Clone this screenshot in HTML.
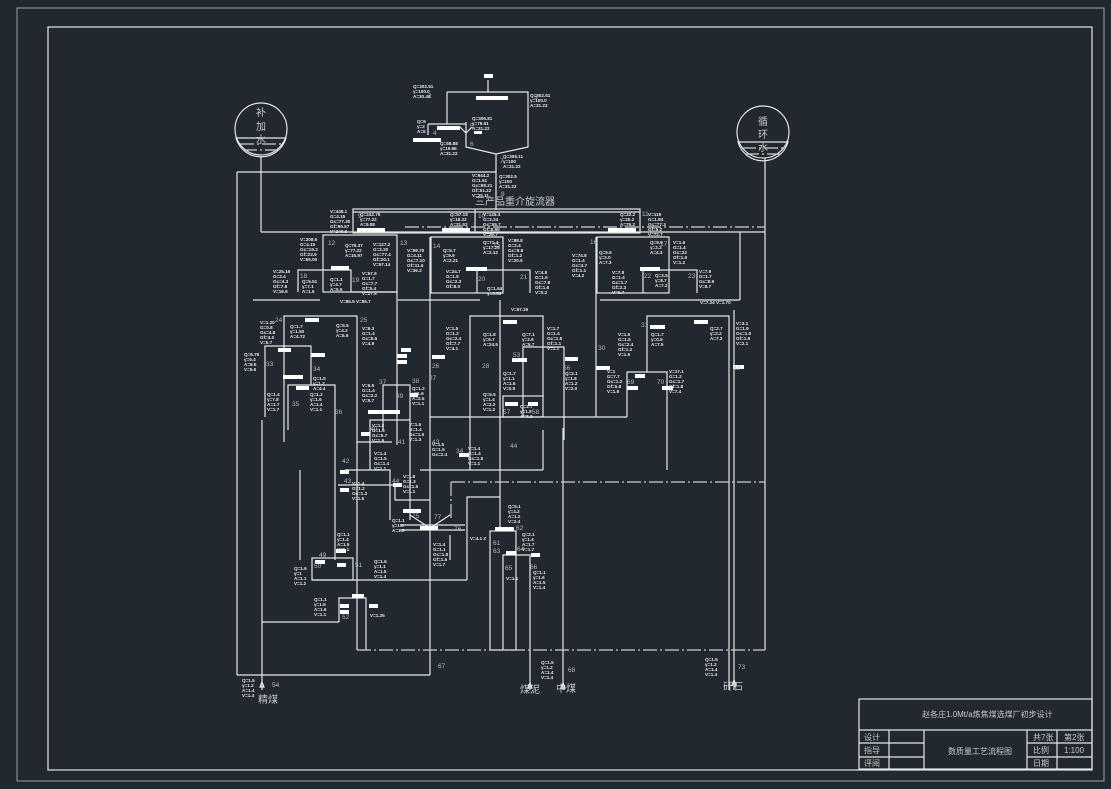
<!DOCTYPE html>
<html><head><meta charset="utf-8"><style>
html,body{margin:0;padding:0;background:#212830;}
svg{display:block}
.l{stroke:#e6e6e6;stroke-width:1.2;fill:none}
.g{stroke:#9aa0a8;stroke-width:1;fill:none}
.d{stroke:#d0d0d0;stroke-width:1.2;fill:none;stroke-dasharray:14 3 2 3}
.w{fill:#ffffff}
.t{fill:#e8e8e8;font-family:"Liberation Sans",sans-serif;font-size:4.6px;font-weight:bold}
.n{fill:#b8b8b8;font-family:"Liberation Sans",sans-serif;font-size:6.5px}
.c{fill:#c8c8c8;font-family:"Liberation Sans","Noto Sans CJK SC",sans-serif}
</style></head><body>
<svg width="1111" height="789" viewBox="0 0 1111 789" xmlns="http://www.w3.org/2000/svg">
<rect x="0" y="0" width="1111" height="789" fill="#212830"/>
<rect x="17" y="8" width="1087" height="773" class="g"/>
<rect x="48" y="27" width="1044" height="743" class="l" stroke-width="1.5"/>

<g class="l">
<rect x="859" y="699" width="233" height="70"/>
<line x1="859" y1="730" x2="1092" y2="730"/>
<line x1="859" y1="743" x2="924" y2="743"/>
<line x1="859" y1="757" x2="924" y2="757"/>
<line x1="1027" y1="743" x2="1092" y2="743"/>
<line x1="1027" y1="757" x2="1092" y2="757"/>
<line x1="889" y1="730" x2="889" y2="769"/>
<line x1="924" y1="730" x2="924" y2="769"/>
<line x1="1027" y1="730" x2="1027" y2="769"/>
<line x1="1057" y1="730" x2="1057" y2="769"/>
</g>
<g class="c" font-size="8">
<text x="922" y="717">赵各庄1.0Mt/a炼焦煤选煤厂初步设计</text>
<text x="864" y="740">设计</text><text x="864" y="753">指导</text><text x="864" y="766">评阅</text>
<text x="948" y="754">数质量工艺流程图</text>
<text x="1033" y="740">共7张</text><text x="1064" y="740">第2张</text>
<text x="1033" y="753">比例</text><text x="1064" y="753">1:100</text>
<text x="1033" y="766">日期</text>
</g>

<g class="l">
<circle cx="261" cy="129" r="26"/>
<circle cx="763" cy="132" r="26"/>
</g>
<path d="M236 138 A26 26 0 0 0 286 138 Z" fill="none" class="l"/>
<path d="M738 142 A26 26 0 0 0 788 142 Z" fill="none" class="l"/>
<g class="d" stroke-dasharray="3 2"><line x1="240" y1="144" x2="282" y2="144"/><line x1="243" y1="150" x2="279" y2="150"/><line x1="742" y1="148" x2="784" y2="148"/><line x1="745" y1="154" x2="781" y2="154"/></g>
<g class="c" font-size="10"><text x="256" y="116">补</text><text x="256" y="130">加</text><text x="256" y="143">水</text><text x="758" y="125">循</text><text x="758" y="138">环</text><text x="758" y="151">水</text></g>

<g class="l">
<path d="M447 92 H528 V147 L496 154 L466 147 V122"/>
<line x1="447" y1="92" x2="447" y2="124"/>
<line x1="428" y1="124" x2="466" y2="124"/>
<line x1="496" y1="154" x2="496" y2="210"/>
<line x1="488" y1="80" x2="488" y2="92"/>
<line x1="428" y1="124" x2="428" y2="135"/>
<path d="M460 127 l6 6 l6 -6"/>
<line x1="237" y1="172" x2="496" y2="172"/>
<line x1="237" y1="172" x2="237" y2="675"/>
<line x1="237" y1="675" x2="430" y2="675"/>
<line x1="261" y1="156" x2="261" y2="232"/>
<line x1="261" y1="232" x2="765" y2="232"/>
<line x1="765" y1="158" x2="765" y2="650"/>
</g>
<rect x="484" y="74" width="9" height="4" class="w"/>
<rect x="476" y="96" width="32" height="4" class="w"/>
<rect x="437" y="126" width="23" height="4" class="w"/>
<rect x="413" y="138" width="28" height="4" class="w"/>
<rect x="474" y="131" width="8" height="3" class="w"/>
<text x="475" y="205" class="c" font-size="10" fill="#a0a0a0">三产品重介旋流器</text>

<g class="l">
<rect x="353" y="209" width="287" height="24"/>
<line x1="353" y1="212" x2="640" y2="212"/>
<line x1="475" y1="209" x2="475" y2="233"/>
</g>
<line x1="405" y1="227" x2="765" y2="227" class="d"/>
<rect x="357" y="228" width="28" height="4" class="w"/>
<rect x="442" y="228" width="28" height="4" class="w"/>
<rect x="608" y="228" width="28" height="4" class="w"/>

<g class="l">
<rect x="323" y="235" width="74" height="57"/>
<path d="M298 292 V270 H351 V292 H397"/>
<rect x="431" y="237" width="72" height="56"/>
<path d="M477 293 V270 H530 V293"/>
<rect x="597" y="237" width="72" height="56"/>
<path d="M643 293 V270 H697 V293"/>
<path d="M284 442 V316 H357 V442 H392"/>
<path d="M265 417 V346 H311 V385"/>
<path d="M288 430 V385 H335 V440"/>
<path d="M470 420 V316 H543 V396"/>
<path d="M523 417 V347 H564 V440"/>
<rect x="503" y="396" width="40" height="21"/>
<path d="M647 372 V316 H729 V690"/>
<path d="M627 417 V372 H667 V470"/>
<path d="M383 430 V385 H410 V520"/>
<path d="M370 470 V420 H410"/>
<line x1="430" y1="237" x2="430" y2="675"/>
<line x1="430" y1="417" x2="627" y2="417"/>
<line x1="398" y1="300" x2="480" y2="300"/>
<line x1="600" y1="300" x2="740" y2="300"/>
<line x1="740" y1="232" x2="740" y2="300"/>
<line x1="397" y1="292" x2="397" y2="445"/>
<line x1="253" y1="300" x2="320" y2="300"/>
<line x1="262" y1="420" x2="262" y2="690"/>
<line x1="335" y1="440" x2="335" y2="560"/>
<line x1="357" y1="442" x2="357" y2="650"/>
<line x1="596" y1="237" x2="596" y2="417"/>
<line x1="563" y1="428" x2="563" y2="690"/>
<line x1="734" y1="310" x2="734" y2="690"/>
<line x1="470" y1="420" x2="470" y2="470"/>
<line x1="543" y1="430" x2="543" y2="470"/>
<line x1="420" y1="470" x2="543" y2="470"/>
<path d="M345 470 H390 V520"/>
<path d="M338 485 H395 V500 H430"/>
<line x1="312" y1="580" x2="467" y2="580"/>
<path d="M467 580 V497 H500"/>
<rect x="312" y="558" width="41" height="22"/>
<path d="M339 622 V598 H366 V650"/>
<line x1="262" y1="622" x2="339" y2="622"/>
<line x1="500" y1="300" x2="500" y2="530"/>
<rect x="490" y="531" width="26" height="119"/>
<path d="M503 650 V555 H530 V690"/>
<line x1="400" y1="525" x2="465" y2="525"/>
<line x1="400" y1="530" x2="465" y2="530"/>
<path d="M410 515 L430 528 L450 515"/>
<line x1="450" y1="535" x2="450" y2="560"/>
<line x1="300" y1="470" x2="300" y2="560"/>
</g>
<g class="d">
<line x1="357" y1="650" x2="765" y2="650"/>
<line x1="451" y1="482" x2="765" y2="482"/>
<line x1="451" y1="482" x2="451" y2="520"/>
</g>

<g class="w">
<rect x="331" y="266" width="18" height="4"/>
<rect x="466" y="267" width="21" height="4"/>
<rect x="640" y="267" width="20" height="4"/>
<rect x="305" y="318" width="14" height="4"/>
<rect x="503" y="320" width="14" height="4"/>
<rect x="278" y="348" width="13" height="4"/>
<rect x="311" y="353" width="14" height="4"/>
<rect x="296" y="386" width="13" height="4"/>
<rect x="283" y="375" width="20" height="4"/>
<rect x="512" y="358" width="15" height="4"/>
<rect x="565" y="357" width="13" height="4"/>
<rect x="397" y="354" width="10" height="4"/>
<rect x="397" y="360" width="10" height="4"/>
<rect x="432" y="355" width="13" height="4"/>
<rect x="596" y="366" width="14" height="4"/>
<rect x="650" y="325" width="15" height="4"/>
<rect x="694" y="320" width="14" height="4"/>
<rect x="733" y="365" width="11" height="4"/>
<rect x="635" y="374" width="10" height="4"/>
<rect x="627" y="386" width="11" height="4"/>
<rect x="662" y="386" width="11" height="4"/>
<rect x="505" y="402" width="13" height="4"/>
<rect x="528" y="402" width="10" height="4"/>
<rect x="368" y="410" width="32" height="4"/>
<rect x="410" y="393" width="8" height="4"/>
<rect x="361" y="432" width="9" height="4"/>
<rect x="459" y="453" width="10" height="4"/>
<rect x="340" y="470" width="9" height="4"/>
<rect x="393" y="483" width="9" height="4"/>
<rect x="340" y="488" width="9" height="4"/>
<rect x="403" y="509" width="18" height="4"/>
<rect x="420" y="526" width="18" height="4"/>
<rect x="495" y="527" width="19" height="4"/>
<rect x="506" y="551" width="10" height="4"/>
<rect x="531" y="553" width="9" height="4"/>
<rect x="315" y="560" width="10" height="4"/>
<rect x="337" y="563" width="9" height="4"/>
<rect x="336" y="549" width="10" height="4"/>
<rect x="352" y="594" width="12" height="4"/>
<rect x="340" y="604" width="9" height="4"/>
<rect x="340" y="610" width="9" height="4"/>
<rect x="369" y="604" width="9" height="4"/>
<rect x="401" y="348" width="10" height="4"/>
</g>

<g class="n">
<text x="534" y="99">3</text><text x="428" y="98">2</text><text x="433" y="135">4</text><text x="470" y="128">5</text><text x="470" y="146">6</text><text x="500" y="163">7</text><text x="501" y="196">8</text>
<text x="358" y="218">9</text><text x="478" y="218">10</text><text x="642" y="216">11</text>
<text x="328" y="245">12</text><text x="400" y="245">13</text><text x="433" y="248">14</text><text x="493" y="247">15</text><text x="590" y="244">16</text><text x="660" y="246">17</text>
<text x="300" y="278">18</text><text x="352" y="282">19</text><text x="478" y="281">20</text><text x="520" y="279">21</text><text x="644" y="278">22</text><text x="688" y="278">23</text>
<text x="275" y="322">24</text><text x="360" y="322">25</text><text x="598" y="350">30</text><text x="641" y="327">31</text><text x="733" y="370">32</text>
<text x="266" y="366">33</text><text x="313" y="371">34</text><text x="292" y="406">35</text><text x="335" y="414">36</text><text x="379" y="384">37</text><text x="412" y="383">38</text>
<text x="396" y="398">39</text><text x="370" y="431">40</text><text x="398" y="444">41</text><text x="432" y="444">43</text><text x="510" y="448">44</text><text x="432" y="368">26</text>
<text x="482" y="368">28</text><text x="429" y="380">27</text><text x="513" y="357">53</text><text x="563" y="370">56</text><text x="503" y="414">57</text><text x="532" y="414">58</text>
<text x="627" y="384">69</text><text x="657" y="384">70</text><text x="456" y="453">34</text>
<text x="342" y="463">42</text><text x="344" y="483">43</text><text x="392" y="483">44</text><text x="412" y="518">75</text><text x="434" y="519">77</text><text x="454" y="531">76</text>
<text x="319" y="557">49</text><text x="314" y="568">50</text><text x="355" y="567">51</text><text x="342" y="619">52</text>
<text x="516" y="530">62</text><text x="493" y="545">61</text><text x="493" y="553">63</text><text x="517" y="551">64</text><text x="505" y="570">65</text><text x="530" y="569">66</text>
<text x="438" y="668">67</text><text x="568" y="672">68</text><text x="738" y="669">73</text><text x="272" y="687">54</text>
</g>
<g class="c" font-size="10">
<text x="258" y="703">精煤</text><text x="520" y="693">煤泥</text><text x="556" y="692">中煤</text><text x="723" y="690">矸石</text>
</g>
<g class="l"><path d="M262 682 l-2 5 h4z"/><path d="M530 683 l-2 5 h4z"/><path d="M563 683 l-2 5 h4z"/><path d="M734 680 l-2 5 h4z"/></g>

<g class="t">
<text x="413" y="88"><tspan>Q=302.51</tspan><tspan x="413" dy="5">γ=100.0</tspan><tspan x="413" dy="5">A=30.40</tspan></text>
<text x="530" y="97"><tspan>Q=302.51</tspan><tspan x="530" dy="5">γ=100.0</tspan><tspan x="530" dy="5">A=31.22</tspan></text>
<text x="417" y="123"><tspan>Q=6</tspan><tspan x="417" dy="5">γ=2</tspan><tspan x="417" dy="5">A=6</tspan></text>
<text x="472" y="120"><tspan>Q=306.81</tspan><tspan x="472" dy="5">γ=79.51</tspan><tspan x="472" dy="5">A=31.22</tspan></text>
<text x="440" y="145"><tspan>Q=58.88</tspan><tspan x="440" dy="5">γ=19.66</tspan><tspan x="440" dy="5">A=31.22</tspan></text>
<text x="503" y="158"><tspan>Q=308.11</tspan><tspan x="503" dy="5">γ=100</tspan><tspan x="503" dy="5">A=31.22</tspan></text>
<text x="472" y="177"><tspan>V=944.2</tspan><tspan x="472" dy="5">G=1.51</tspan><tspan x="472" dy="5">Gc=98.21</tspan><tspan x="472" dy="5">Gf=51.22</tspan><tspan x="472" dy="5">V=25.11</tspan></text>
<text x="499" y="178"><tspan>Q=302.5</tspan><tspan x="499" dy="5">γ=100</tspan><tspan x="499" dy="5">A=31.22</tspan></text>
<text x="330" y="213"><tspan>V=448.1</tspan><tspan x="330" dy="5">G=4.15</tspan><tspan x="330" dy="5">Gc=77.30</tspan><tspan x="330" dy="5">Gf=96.57</tspan><tspan x="330" dy="5">V=240.6</tspan></text>
<text x="360" y="216"><tspan>Q=242.75</tspan><tspan x="360" dy="5">γ=77.22</tspan><tspan x="360" dy="5">A=9.88</tspan></text>
<text x="450" y="216"><tspan>Q=57.18</tspan><tspan x="450" dy="5">γ=18.22</tspan><tspan x="450" dy="5">A=31.52</tspan></text>
<text x="483" y="216"><tspan>V=145.4</tspan><tspan x="483" dy="5">G=2.24</tspan><tspan x="483" dy="5">Gc=55.7</tspan><tspan x="483" dy="5">Gf=8.55</tspan><tspan x="483" dy="5">V=26.7</tspan></text>
<text x="620" y="216"><tspan>Q=22.2</tspan><tspan x="620" dy="5">γ=25.2</tspan><tspan x="620" dy="5">A=79.2</tspan></text>
<text x="648" y="216"><tspan>V=119</tspan><tspan x="648" dy="5">G=1.84</tspan><tspan x="648" dy="5">Gc=77.3</tspan><tspan x="648" dy="5">Gf=5.2</tspan><tspan x="648" dy="5">V=72.7</tspan></text>
<text x="300" y="241"><tspan>V=208.6</tspan><tspan x="300" dy="5">G=4.15</tspan><tspan x="300" dy="5">Gc=19.2</tspan><tspan x="300" dy="5">Gf=22.9</tspan><tspan x="300" dy="5">V=55.00</tspan></text>
<text x="345" y="247"><tspan>Q=79.37</tspan><tspan x="345" dy="5">γ=77.22</tspan><tspan x="345" dy="5">A=15.97</tspan></text>
<text x="373" y="246"><tspan>V=127.2</tspan><tspan x="373" dy="5">G=2.20</tspan><tspan x="373" dy="5">Gc=77.4</tspan><tspan x="373" dy="5">Gf=20.1</tspan><tspan x="373" dy="5">V=97.14</tspan></text>
<text x="407" y="252"><tspan>V=99.70</tspan><tspan x="407" dy="5">G=4.11</tspan><tspan x="407" dy="5">Gc=7.10</tspan><tspan x="407" dy="5">Gf=11.6</tspan><tspan x="407" dy="5">V=36.2</tspan></text>
<text x="443" y="252"><tspan>Q=5.7</tspan><tspan x="443" dy="5">γ=9.9</tspan><tspan x="443" dy="5">A=2.21</tspan></text>
<text x="483" y="244"><tspan>Q=71.4</tspan><tspan x="483" dy="5">γ=17.25</tspan><tspan x="483" dy="5">A=2.12</tspan></text>
<text x="508" y="242"><tspan>V=88.8</tspan><tspan x="508" dy="5">G=2.4</tspan><tspan x="508" dy="5">Gc=9.8</tspan><tspan x="508" dy="5">Gf=1.2</tspan><tspan x="508" dy="5">V=20.6</tspan></text>
<text x="572" y="257"><tspan>V=74.8</tspan><tspan x="572" dy="5">G=1.4</tspan><tspan x="572" dy="5">Gc=4.7</tspan><tspan x="572" dy="5">Gf=1.1</tspan><tspan x="572" dy="5">V=4.2</tspan></text>
<text x="599" y="254"><tspan>Q=5.5</tspan><tspan x="599" dy="5">γ=2.0</tspan><tspan x="599" dy="5">A=7.3</tspan></text>
<text x="650" y="244"><tspan>Q=9.9</tspan><tspan x="650" dy="5">γ=2.2</tspan><tspan x="650" dy="5">A=4.3</tspan></text>
<text x="673" y="244"><tspan>V=1.6</tspan><tspan x="673" dy="5">G=1.4</tspan><tspan x="673" dy="5">Gc=22</tspan><tspan x="673" dy="5">Gf=1.6</tspan><tspan x="673" dy="5">V=1.2</tspan></text>
<text x="273" y="273"><tspan>V=25.16</tspan><tspan x="273" dy="5">G=2.4</tspan><tspan x="273" dy="5">Gc=4.3</tspan><tspan x="273" dy="5">Gf=7.8</tspan><tspan x="273" dy="5">V=16.6</tspan></text>
<text x="302" y="283"><tspan>Q=5.51</tspan><tspan x="302" dy="5">γ=7.1</tspan><tspan x="302" dy="5">A=1.6</tspan></text>
<text x="330" y="281"><tspan>Q=1.1</tspan><tspan x="330" dy="5">γ=4.7</tspan><tspan x="330" dy="5">A=5.6</tspan></text>
<text x="362" y="275"><tspan>V=57.9</tspan><tspan x="362" dy="5">G=1.7</tspan><tspan x="362" dy="5">Gc=7.7</tspan><tspan x="362" dy="5">Gf=5.4</tspan><tspan x="362" dy="5">V=27.5</tspan></text>
<text x="446" y="273"><tspan>V=24.7</tspan><tspan x="446" dy="5">G=1.9</tspan><tspan x="446" dy="5">Gc=2.3</tspan><tspan x="446" dy="5">Gf=8.0</tspan></text>
<text x="487" y="290"><tspan>Q=1.64</tspan><tspan x="487" dy="5">γ=0.58</tspan></text>
<text x="535" y="274"><tspan>V=4.8</tspan><tspan x="535" dy="5">G=1.6</tspan><tspan x="535" dy="5">Gc=7.8</tspan><tspan x="535" dy="5">Gf=1.6</tspan><tspan x="535" dy="5">V=0.2</tspan></text>
<text x="612" y="274"><tspan>V=7.8</tspan><tspan x="612" dy="5">G=1.4</tspan><tspan x="612" dy="5">Gc=1.7</tspan><tspan x="612" dy="5">Gf=2.3</tspan><tspan x="612" dy="5">V=0.7</tspan></text>
<text x="655" y="277"><tspan>Q=2.5</tspan><tspan x="655" dy="5">γ=8.7</tspan><tspan x="655" dy="5">A=7.2</tspan></text>
<text x="699" y="273"><tspan>V=7.9</tspan><tspan x="699" dy="5">G=1.7</tspan><tspan x="699" dy="5">Gc=8.9</tspan><tspan x="699" dy="5">V=8.7</tspan></text>
<text x="700" y="304">V=7.24 V=1.70</text><text x="511" y="311">V=67.26</text><text x="340" y="303">V=85.5 V=85.7</text>
<text x="260" y="324"><tspan>V=1.20</tspan><tspan x="260" dy="5">G=0.8</tspan><tspan x="260" dy="5">Gc=4.8</tspan><tspan x="260" dy="5">Gf=4.0</tspan><tspan x="260" dy="5">V=5.7</tspan></text>
<text x="290" y="328"><tspan>Q=1.7</tspan><tspan x="290" dy="5">γ=1.50</tspan><tspan x="290" dy="5">A=4.72</tspan></text>
<text x="336" y="327"><tspan>Q=5.5</tspan><tspan x="336" dy="5">γ=4.2</tspan><tspan x="336" dy="5">A=6.6</tspan></text>
<text x="362" y="330"><tspan>V=6.3</tspan><tspan x="362" dy="5">G=1.4</tspan><tspan x="362" dy="5">Gc=5.5</tspan><tspan x="362" dy="5">V=4.9</tspan></text>
<text x="244" y="356"><tspan>Q=6.76</tspan><tspan x="244" dy="5">γ=6.4</tspan><tspan x="244" dy="5">A=8.5</tspan><tspan x="244" dy="5">V=5.6</tspan></text>
<text x="313" y="380"><tspan>Q=1.5</tspan><tspan x="313" dy="5">γ=1.2</tspan><tspan x="313" dy="5">A=4.4</tspan></text>
<text x="267" y="396"><tspan>Q=1.4</tspan><tspan x="267" dy="5">γ=7.8</tspan><tspan x="267" dy="5">A=1.7</tspan><tspan x="267" dy="5">V=1.7</tspan></text>
<text x="310" y="396"><tspan>Q=1.2</tspan><tspan x="310" dy="5">γ=1.6</tspan><tspan x="310" dy="5">A=1.4</tspan><tspan x="310" dy="5">V=1.1</tspan></text>
<text x="446" y="330"><tspan>V=1.5</tspan><tspan x="446" dy="5">G=1.2</tspan><tspan x="446" dy="5">Gc=2.4</tspan><tspan x="446" dy="5">Gf=7.7</tspan><tspan x="446" dy="5">V=4.1</tspan></text>
<text x="483" y="336"><tspan>Q=1.8</tspan><tspan x="483" dy="5">γ=6.7</tspan><tspan x="483" dy="5">A=24.5</tspan></text>
<text x="522" y="336"><tspan>Q=7.1</tspan><tspan x="522" dy="5">γ=2.6</tspan><tspan x="522" dy="5">A=5.7</tspan></text>
<text x="547" y="330"><tspan>V=1.7</tspan><tspan x="547" dy="5">G=1.4</tspan><tspan x="547" dy="5">Gc=1.8</tspan><tspan x="547" dy="5">Gf=1.1</tspan><tspan x="547" dy="5">V=1.1</tspan></text>
<text x="565" y="375"><tspan>Q=2.1</tspan><tspan x="565" dy="5">γ=1.8</tspan><tspan x="565" dy="5">A=1.2</tspan><tspan x="565" dy="5">V=2.0</tspan></text>
<text x="503" y="375"><tspan>Q=1.7</tspan><tspan x="503" dy="5">γ=1.1</tspan><tspan x="503" dy="5">A=1.6</tspan><tspan x="503" dy="5">V=0.9</tspan></text>
<text x="483" y="396"><tspan>Q=5.5</tspan><tspan x="483" dy="5">γ=1.4</tspan><tspan x="483" dy="5">A=2.2</tspan><tspan x="483" dy="5">V=1.2</tspan></text>
<text x="520" y="408"><tspan>Q=2.7</tspan><tspan x="520" dy="5">γ=1.8</tspan><tspan x="520" dy="5">A=7.2</tspan></text>
<text x="618" y="336"><tspan>V=1.5</tspan><tspan x="618" dy="5">G=1.5</tspan><tspan x="618" dy="5">Gc=2.4</tspan><tspan x="618" dy="5">Gf=1.2</tspan><tspan x="618" dy="5">V=1.5</tspan></text>
<text x="651" y="336"><tspan>Q=1.7</tspan><tspan x="651" dy="5">γ=0.5</tspan><tspan x="651" dy="5">A=7.5</tspan></text>
<text x="710" y="330"><tspan>Q=2.7</tspan><tspan x="710" dy="5">γ=2.2</tspan><tspan x="710" dy="5">A=7.2</tspan></text>
<text x="736" y="325"><tspan>V=3.1</tspan><tspan x="736" dy="5">G=1.9</tspan><tspan x="736" dy="5">Gc=1.0</tspan><tspan x="736" dy="5">Gf=1.8</tspan><tspan x="736" dy="5">V=2.1</tspan></text>
<text x="607" y="373"><tspan>V=1</tspan><tspan x="607" dy="5">G=7.7</tspan><tspan x="607" dy="5">Gc=1.2</tspan><tspan x="607" dy="5">Gf=5.8</tspan><tspan x="607" dy="5">V=1.9</tspan></text>
<text x="669" y="373"><tspan>V=17.1</tspan><tspan x="669" dy="5">G=1.2</tspan><tspan x="669" dy="5">Gc=1.7</tspan><tspan x="669" dy="5">Gf=1.8</tspan><tspan x="669" dy="5">V=7.4</tspan></text>
<text x="362" y="387"><tspan>V=6.5</tspan><tspan x="362" dy="5">G=1.4</tspan><tspan x="362" dy="5">Gc=2.2</tspan><tspan x="362" dy="5">V=5.7</tspan></text>
<text x="412" y="390"><tspan>Q=1.2</tspan><tspan x="412" dy="5">γ=1.6</tspan><tspan x="412" dy="5">A=2.5</tspan><tspan x="412" dy="5">V=1.1</tspan></text>
<text x="372" y="427"><tspan>V=1.2</tspan><tspan x="372" dy="5">G=1.6</tspan><tspan x="372" dy="5">Gc=5.7</tspan><tspan x="372" dy="5">V=1.9</tspan></text>
<text x="409" y="426"><tspan>V=1.6</tspan><tspan x="409" dy="5">G=1.4</tspan><tspan x="409" dy="5">Gc=1.6</tspan><tspan x="409" dy="5">V=1.3</tspan></text>
<text x="432" y="446"><tspan>V=1.5</tspan><tspan x="432" dy="5">G=1.5</tspan><tspan x="432" dy="5">Gc=2.4</tspan></text>
<text x="468" y="450"><tspan>V=1.4</tspan><tspan x="468" dy="5">G=1.4</tspan><tspan x="468" dy="5">Gc=1.5</tspan><tspan x="468" dy="5">V=1.1</tspan></text>
<text x="374" y="455"><tspan>V=1.4</tspan><tspan x="374" dy="5">G=1.5</tspan><tspan x="374" dy="5">Gc=1.4</tspan><tspan x="374" dy="5">V=1.1</tspan></text>
<text x="352" y="485"><tspan>V=1.4</tspan><tspan x="352" dy="5">G=1.2</tspan><tspan x="352" dy="5">Gc=1.3</tspan><tspan x="352" dy="5">V=1.5</tspan></text>
<text x="403" y="478"><tspan>V=1.8</tspan><tspan x="403" dy="5">G=1.3</tspan><tspan x="403" dy="5">Gc=1.6</tspan><tspan x="403" dy="5">V=1.1</tspan></text>
<text x="392" y="522"><tspan>Q=1.1</tspan><tspan x="392" dy="5">γ=1.6</tspan><tspan x="392" dy="5">A=1.5</tspan></text>
<text x="433" y="546"><tspan>V=1.4</tspan><tspan x="433" dy="5">G=1.1</tspan><tspan x="433" dy="5">Gc=1.8</tspan><tspan x="433" dy="5">Gf=1.5</tspan><tspan x="433" dy="5">V=1.7</tspan></text>
<text x="508" y="508"><tspan>Q=5.1</tspan><tspan x="508" dy="5">γ=4.2</tspan><tspan x="508" dy="5">A=1.2</tspan><tspan x="508" dy="5">V=2.4</tspan></text>
<text x="470" y="540">V=4.1 Z</text>
<text x="522" y="536"><tspan>Q=2.1</tspan><tspan x="522" dy="5">γ=1.4</tspan><tspan x="522" dy="5">A=1.7</tspan><tspan x="522" dy="5">V=1.7</tspan></text>
<text x="506" y="580">V=1.1</text>
<text x="533" y="574"><tspan>Q=1.1</tspan><tspan x="533" dy="5">γ=1.6</tspan><tspan x="533" dy="5">A=1.5</tspan><tspan x="533" dy="5">V=1.4</tspan></text>
<text x="337" y="536"><tspan>Q=1.1</tspan><tspan x="337" dy="5">γ=1.4</tspan><tspan x="337" dy="5">A=1.5</tspan><tspan x="337" dy="5">V=1.1</tspan></text>
<text x="294" y="570"><tspan>Q=1.6</tspan><tspan x="294" dy="5">γ=1</tspan><tspan x="294" dy="5">A=1.1</tspan><tspan x="294" dy="5">V=1.2</tspan></text>
<text x="374" y="563"><tspan>Q=1.6</tspan><tspan x="374" dy="5">γ=1.1</tspan><tspan x="374" dy="5">A=1.5</tspan><tspan x="374" dy="5">V=1.4</tspan></text>
<text x="314" y="601"><tspan>Q=1.1</tspan><tspan x="314" dy="5">γ=1.6</tspan><tspan x="314" dy="5">A=1.6</tspan><tspan x="314" dy="5">V=1.1</tspan></text>
<text x="370" y="617">V=1.25</text>
<text x="242" y="682"><tspan>Q=1.5</tspan><tspan x="242" dy="5">γ=1.2</tspan><tspan x="242" dy="5">A=1.4</tspan><tspan x="242" dy="5">V=1.4</tspan></text>
<text x="541" y="664"><tspan>Q=1.5</tspan><tspan x="541" dy="5">γ=1.2</tspan><tspan x="541" dy="5">A=1.4</tspan><tspan x="541" dy="5">V=1.4</tspan></text>
<text x="705" y="661"><tspan>Q=1.5</tspan><tspan x="705" dy="5">γ=1.2</tspan><tspan x="705" dy="5">A=1.4</tspan><tspan x="705" dy="5">V=1.4</tspan></text>
</g>
</svg>
</body></html>
